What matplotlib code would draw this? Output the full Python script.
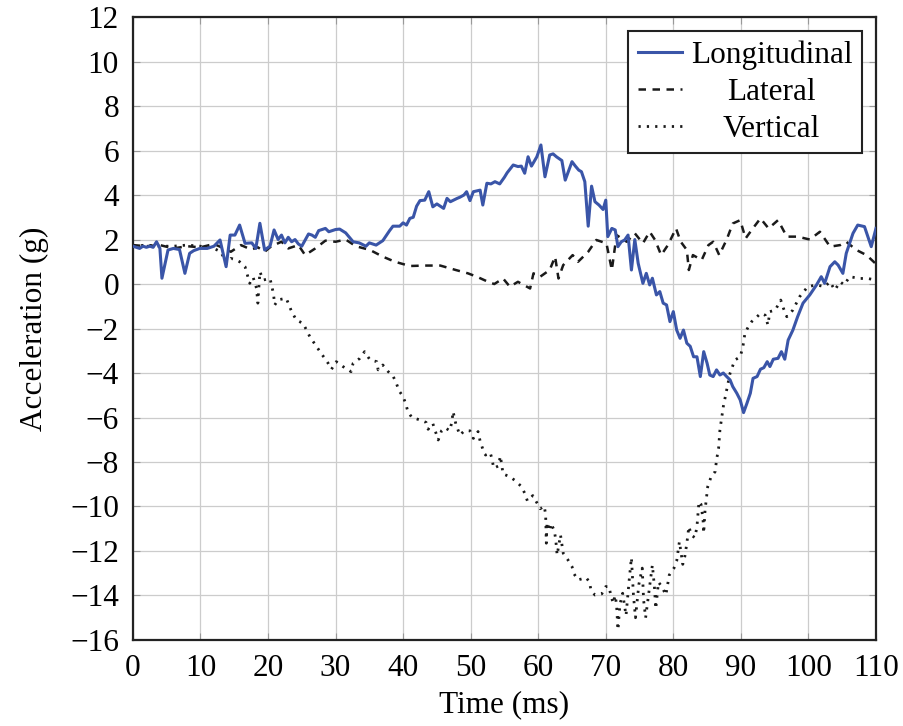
import numpy as np
import matplotlib
matplotlib.use('Agg')
import matplotlib.pyplot as plt

# (time ms, acceleration g)
longitudinal = [(0, 1.7), (0.5, 1.65), (1, 1.6), (1.5, 1.7), (2, 1.65), (2.5, 1.7), (3, 1.65), (3.5, 1.9),
    (4, 1.6), (4.3, 0.26), (5.2, 1.53), (6, 1.6), (6.9, 1.55), (7.7, 0.48), (8.4, 1.38), (9, 1.5),
    (9.9, 1.6), (11, 1.6), (12, 1.7), (12.9, 1.98), (13.8, 0.78), (14.4, 2.2), (15.1, 2.2), (15.8, 2.65),
    (16.6, 1.83), (17.6, 1.85), (18.2, 1.6), (18.8, 2.73), (19.5, 1.53), (20.3, 1.7), (20.9, 2.43),
    (21.5, 2.0), (22, 2.2), (22.5, 1.85), (23, 2.1), (23.5, 1.9), (24, 2.0), (24.5, 1.8), (25, 1.7),
    (26, 2.25), (26.5, 2.2), (27, 2.1), (27.5, 2.4), (28.5, 2.5), (29, 2.35), (30, 2.45), (30.6, 2.47),
    (31.5, 2.3), (32.6, 1.9), (33.5, 1.85), (34.5, 1.7), (35, 1.85), (36, 1.75), (37, 1.95), (38, 2.4),
    (38.5, 2.6), (39.5, 2.6), (40, 2.75), (40.5, 2.65), (41, 2.95), (41.5, 3.0), (42, 3.5), (42.5, 3.75),
    (43.2, 3.77), (43.8, 4.15), (44.4, 3.47), (45, 3.6), (46, 3.4), (46.5, 3.85), (47, 3.7), (48, 3.85),
    (48.4, 3.9), (49, 4.0), (49.4, 4.15), (49.9, 3.75), (50.4, 4.15), (51.4, 4.22), (51.8, 3.55),
    (52.4, 4.53), (53, 4.5), (53.6, 4.6), (54.3, 4.5), (55, 4.8), (55.4, 5.0), (56.3, 5.35), (57, 5.28),
    (57.5, 5.3), (58, 4.98), (58.5, 5.72), (59, 5.3), (59.8, 5.72), (60.4, 6.25), (61, 4.82), (61.7, 5.8),
    (62.2, 5.85), (62.7, 5.72), (63.5, 5.55), (64, 4.67), (65, 5.5), (65.5, 5.3), (66, 5.12), (66.4, 5.05),
    (66.9, 4.6), (67.4, 2.6), (67.9, 4.4), (68.4, 3.7), (69, 3.55), (69.6, 3.35), (70, 3.77), (70.3, 2.13),
    (70.9, 2.5), (71.4, 2.43), (71.8, 1.68), (72.3, 1.9), (72.8, 1.98), (73.3, 2.2), (73.8, 0.63),
    (74.3, 2.0), (74.8, 0.93), (75.5, 0.03), (76, 0.48), (76.5, -0.04), (76.9, 0.26), (77.5, -0.49),
    (78, -0.34), (78.5, -0.86), (79, -0.94), (79.5, -1.69), (80, -1.24), (80.5, -2.07), (81, -2.44),
    (81.5, -2.07), (82, -2.66), (82.5, -2.8), (83, -3.27), (83.5, -3.27), (84, -4.16), (84.5, -3.04),
    (85, -3.56), (85.4, -4.09), (85.9, -4.16), (86.4, -3.86), (86.9, -4.09), (87.4, -4.0), (87.9, -4.16),
    (88.4, -4.31), (88.8, -4.61), (89.4, -4.91), (89.9, -5.21), (90.4, -5.78), (90.9, -5.36),
    (91.4, -4.91), (91.8, -4.24), (92.4, -4.16), (92.9, -3.83), (93.4, -3.76), (93.9, -3.49),
    (94.3, -3.71), (94.8, -3.38), (95.5, -3.34), (96, -3.04), (96.5, -3.38), (97, -2.52), (97.7, -2.07),
    (98.4, -1.47), (99.2, -0.86), (100.2, -0.49), (101.2, -0.04), (101.9, 0.33), (102.4, 0.03),
    (103.2, 0.78), (103.9, 1.0), (104.4, 0.85), (105.1, 0.48), (105.6, 1.38), (106.6, 2.28),
    (107.3, 2.65), (108.3, 2.58), (109.3, 1.68), (110, 2.5)]

lateral = [(0, 1.75), (2, 1.7), (4, 1.75), (6, 1.6), (8, 1.7), (10, 1.65), (12, 1.8), (13.5, 1.6),
    (14.5, 1.45), (16, 1.75), (17.5, 1.55), (18.5, 1.65), (19.5, 1.45), (20.5, 1.7), (22, 1.9), (23, 1.6),
    (24.5, 1.75), (25.5, 1.3), (27, 1.6), (28.5, 1.95), (30, 1.9), (31.5, 2.0), (33, 1.7), (35.1, 1.53),
    (37, 1.23), (38.8, 1.0), (41, 0.81), (43.2, 0.83), (45.5, 0.83), (47.8, 0.63), (49.6, 0.48),
    (50.9, 0.33), (52.8, 0.07), (53.5, 0.0), (54.8, 0.25), (55.8, -0.12), (57, 0.1), (58.8, -0.2),
    (59.3, 0.48), (60.3, 0.33), (61.7, 0.63), (62.5, 1.23), (63, 0.25), (63.7, 0.85), (65.1, 1.3),
    (65.9, 1.0), (67.4, 1.45), (68.6, 1.98), (70.1, 1.83), (70.9, 0.63), (71.6, 2.2), (73.1, 1.9),
    (74.3, 2.28), (75.5, 1.83), (76.5, 2.35), (77.3, 1.98), (78.2, 1.3), (79.2, 1.75), (80.4, 2.5),
    (81.1, 1.9), (82, 1.53), (82.3, 0.63), (82.9, 1.3), (84.2, 1.08), (85.2, 1.75), (85.9, 1.9),
    (86.8, 1.3), (87.9, 2.0), (88.8, 2.72), (89.9, 2.87), (90.7, 2.05), (91.6, 2.43), (92.9, 2.95),
    (94.1, 2.5), (95.5, 2.87), (96.8, 2.13), (98.4, 2.13), (100.2, 2.0), (101.7, 2.35), (103.2, 1.68),
    (104.7, 1.75), (105.6, 1.9), (107.1, 1.53), (108.6, 1.3), (109.9, 0.93)]

vertical = [(0, 1.7), (2, 1.75), (4, 1.7), (6, 1.7), (8, 1.75), (10, 1.7), (12, 1.6), (13, 1.45),
    (13.9, 0.93), (14.5, 1.15), (15.2, 1.1), (15.8, 1.0), (16.6, 0.78), (17.3, 0.03), (17.8, 0.3),
    (18.3, -0.19), (18.5, -0.86), (18.8, 0.55), (19.3, 0.18), (20.3, 0.25), (20.8, -0.42), (21, -0.94),
    (21.5, -0.71), (22.7, -0.64), (23.5, -1.24), (24.2, -1.62), (25.2, -1.77), (26.2, -2.37),
    (27.7, -3.04), (28.9, -3.56), (29.4, -3.83), (30.1, -3.49), (31.1, -3.71), (32.3, -3.94),
    (32.6, -3.56), (33.6, -3.34), (34.3, -3.04), (35.1, -3.41), (36.1, -3.49), (36.3, -3.86),
    (37, -3.64), (37.8, -3.94), (38.5, -4.13), (39, -4.46), (39.4, -4.8), (40, -5.06), (40.4, -5.39),
    (40.7, -5.73), (41.3, -6.0), (42.5, -6.11), (43.4, -6.22), (43.7, -6.53), (44.4, -6.27),
    (45.2, -7.01), (45.7, -6.59), (46.2, -6.46), (46.9, -6.59), (47.2, -6.23), (47.4, -5.73),
    (47.8, -6.28), (48.4, -6.79), (49.1, -6.59), (49.9, -6.6), (50.4, -6.94), (51.1, -6.63),
    (51.4, -7.06), (51.8, -7.42), (52.2, -7.69), (52.9, -7.58), (53.2, -7.91), (53.4, -8.28),
    (54.1, -8.18), (54.4, -7.73), (54.8, -8.54), (55.8, -8.66), (56.6, -8.84), (57.5, -9.1), (58, -9.4),
    (58.4, -9.75), (59.2, -9.51), (59.7, -9.78), (60.3, -10.1), (60.9, -9.98), (61.1, -10.38),
    (61.2, -11.65), (61.3, -10.71), (61.7, -11.1), (61.9, -10.76), (62.4, -11.1), (62.6, -11.51),
    (62.8, -12.18), (63.3, -11.28), (63.7, -12.1), (64.4, -12.4), (65, -12.7), (65.3, -13.03),
    (65.9, -13.3), (67.1, -13.2), (67.6, -13.4), (67.8, -13.75), (68.4, -13.98), (69.4, -13.93),
    (70, -13.6), (70.5, -13.6), (70.7, -13.93), (71.1, -14.35), (71.4, -14.0), (71.6, -14.43),
    (71.8, -15.55), (72.1, -14.4), (72.5, -13.9), (73, -14.9), (73.5, -13.2), (73.8, -12.3),
    (74.1, -14.0), (74.4, -15.0), (74.9, -13.5), (75.4, -12.77), (75.6, -14.2), (75.9, -15.0),
    (76.4, -13.8), (76.9, -12.63), (77.2, -13.6), (77.4, -14.6), (77.8, -13.4), (78.3, -13.6),
    (78.9, -13.98), (79.4, -13.08), (80.1, -12.77), (80.5, -12.45), (80.9, -11.58), (81.4, -12.6),
    (81.7, -12.25), (82, -11.66), (82.3, -10.9), (82.7, -11.3), (83.2, -11.4), (83.5, -10.9),
    (83.8, -9.78), (84.1, -9.9), (84.4, -10.6), (84.5, -11.2), (84.7, -10.16), (85.1, -9.1),
    (85.6, -8.66), (86.2, -8.43), (86.4, -7.9), (86.7, -7.39), (86.9, -6.56), (87.4, -5.51),
    (87.9, -4.76), (88.4, -4.01), (89.1, -3.42), (89.9, -3.27), (90.3, -2.82), (90.6, -2.22),
    (91.1, -1.92), (91.6, -1.69), (92.4, -1.47), (92.9, -1.32), (93.6, -1.4), (94, -1.84), (94.3, -1.24),
    (95.1, -1.17), (95.9, -0.72), (96.3, -1.09), (96.8, -1.47), (97.7, -1.17), (98.7, -0.57),
    (99.9, -0.12), (101.2, -0.04), (102.4, -0.12), (103.2, 0.1), (103.9, -0.27), (104.7, 0.1),
    (105.3, -0.04), (106.1, 0.33), (107.6, 0.25), (108.8, 0.25), (109.9, 0.18)]

xticks = np.arange(0, 111, 10)
yticks = np.arange(-16, 13, 2)

t_lon, a_lon = np.array(longitudinal).T
t_lat, a_lat = np.array(lateral).T
t_ver, a_ver = np.array(vertical).T

plt.rcParams['font.family'] = ['Liberation Serif', 'DejaVu Serif']
plt.rcParams['font.size'] = 22.5

fig = plt.figure(figsize=(9.04, 7.26), dpi=100)
ax = fig.add_axes([0.147, 0.1185, 0.822, 0.858])

ax.plot(t_lon, a_lon, color='#3a55a8', lw=2.2, label='Longitudinal', zorder=3)
ax.plot(t_lat, a_lat, color='#1a1a1a', lw=1.8, linestyle=(0, (3, 2.6)), label='Lateral', zorder=2)
ax.plot(t_ver, a_ver, color='#1a1a1a', lw=2.0, linestyle=(0, (0.8, 2.2)), label='Vertical', zorder=2)

ax.set_xlim(0, 110)
ax.set_ylim(-16, 12)
ax.set_xticks(xticks)
ax.set_yticks(yticks)
ax.grid(True, color='#cccccc', lw=0.9)
ax.set_axisbelow(True)
ax.tick_params(direction='in', length=5, width=0.8, color='#999999', pad=10,
               top=True, right=True)
for s in ax.spines.values():
    s.set_linewidth(1.6)
    s.set_color('#222222')

ax.set_xlabel('Time (ms)', labelpad=5)
ax.set_ylabel('Acceleration (g)', labelpad=15)

leg = ax.legend(loc='upper right', fancybox=False, framealpha=1, edgecolor='#222222',
                handlelength=1.4, handletextpad=0.3, labelspacing=0.25, borderpad=0.3,
                borderaxespad=0.45)
leg.get_frame().set_linewidth(1.5)

# center the legend labels like the original
fig.canvas.draw()
r = fig.canvas.get_renderer()
widths = [t.get_window_extent(r).width for t in leg.get_texts()]
for t, w in zip(leg.get_texts(), widths):
    t.set_x((max(widths) - w) / 2)

plt.savefig('out.png', dpi=100)
